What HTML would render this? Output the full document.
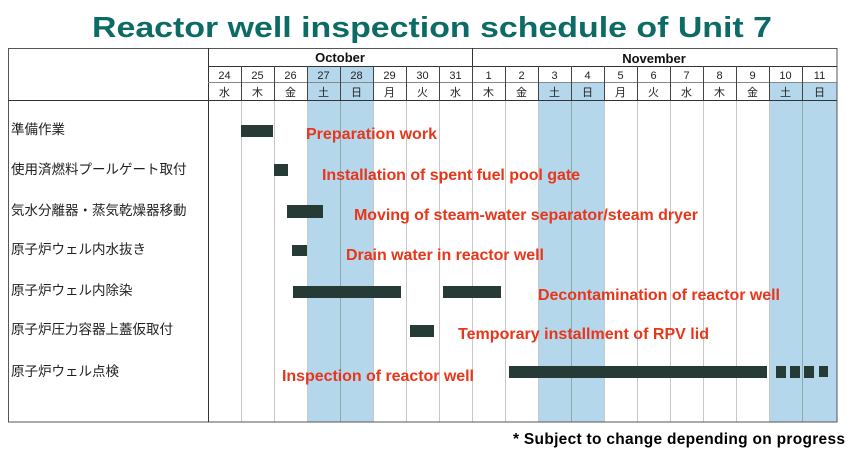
<!DOCTYPE html>
<html><head><meta charset="utf-8"><style>
html,body{margin:0;padding:0;background:#fff;}
svg{display:block;}
.jp{font-family:"Liberation Sans","Noto Sans CJK JP",sans-serif;}
.r{font-family:"Liberation Sans",sans-serif;font-weight:bold;fill:#e8361a;font-size:16px;}
</style></head><body>
<svg width="857" height="458" xmlns="http://www.w3.org/2000/svg">
<text x="92" y="37" font-family="Liberation Sans,sans-serif" font-weight="bold" font-size="29" fill="#0d6b66" textLength="680" lengthAdjust="spacingAndGlyphs">Reactor well inspection schedule of Unit 7</text>
<g fill="#b5d7ec">
<rect x="307" y="66" width="66" height="356"/>
<rect x="538" y="82" width="66" height="340"/>
<rect x="769" y="82" width="68" height="340"/>
</g>
<g stroke="#c8c8c8" stroke-width="1">
<line x1="241.5" y1="100" x2="241.5" y2="422"/><line x1="274.5" y1="100" x2="274.5" y2="422"/>
<line x1="307.5" y1="100" x2="307.5" y2="422"/><line x1="340.5" y1="100" x2="340.5" y2="422" stroke="#8aa"/>
<line x1="373.5" y1="100" x2="373.5" y2="422"/><line x1="406.5" y1="100" x2="406.5" y2="422"/>
<line x1="439.5" y1="100" x2="439.5" y2="422"/><line x1="472.5" y1="100" x2="472.5" y2="422"/>
<line x1="505.5" y1="100" x2="505.5" y2="422"/><line x1="538.5" y1="100" x2="538.5" y2="422"/>
<line x1="571.5" y1="100" x2="571.5" y2="422" stroke="#8aa"/><line x1="604.5" y1="100" x2="604.5" y2="422"/>
<line x1="637.5" y1="100" x2="637.5" y2="422"/><line x1="670.5" y1="100" x2="670.5" y2="422"/>
<line x1="703.5" y1="100" x2="703.5" y2="422"/><line x1="736.5" y1="100" x2="736.5" y2="422"/>
<line x1="769.5" y1="100" x2="769.5" y2="422"/><line x1="802.5" y1="100" x2="802.5" y2="422" stroke="#8aa"/>
</g>
<g stroke="#333" stroke-width="1" fill="none">
<rect x="8.5" y="48.5" width="828.5" height="373.5" stroke="#555"/>
<line x1="208.5" y1="48" x2="208.5" y2="422"/>
<line x1="208" y1="66.5" x2="837" y2="66.5"/>
<line x1="208" y1="82.5" x2="837" y2="82.5" stroke="#888"/>
<line x1="8" y1="100.5" x2="837" y2="100.5"/>
<line x1="472.5" y1="48" x2="472.5" y2="66"/>
</g>
<g stroke="#444" stroke-width="1">
<line x1="241.5" y1="66" x2="241.5" y2="100"/><line x1="274.5" y1="66" x2="274.5" y2="100"/>
<line x1="307.5" y1="66" x2="307.5" y2="100"/><line x1="340.5" y1="66" x2="340.5" y2="100"/>
<line x1="373.5" y1="66" x2="373.5" y2="100"/><line x1="406.5" y1="66" x2="406.5" y2="100"/>
<line x1="439.5" y1="66" x2="439.5" y2="100"/><line x1="472.5" y1="66" x2="472.5" y2="100"/>
<line x1="505.5" y1="66" x2="505.5" y2="100"/><line x1="538.5" y1="66" x2="538.5" y2="100"/>
<line x1="571.5" y1="66" x2="571.5" y2="100"/><line x1="604.5" y1="66" x2="604.5" y2="100"/>
<line x1="637.5" y1="66" x2="637.5" y2="100"/><line x1="670.5" y1="66" x2="670.5" y2="100"/>
<line x1="703.5" y1="66" x2="703.5" y2="100"/><line x1="736.5" y1="66" x2="736.5" y2="100"/>
<line x1="769.5" y1="66" x2="769.5" y2="100"/><line x1="802.5" y1="66" x2="802.5" y2="100"/>
</g>
<g font-family="Liberation Sans,sans-serif" font-weight="bold" font-size="13" fill="#111" text-anchor="middle">
<text x="340" y="62">October</text><text x="654" y="63">November</text>
</g>
<g font-family="Liberation Sans,sans-serif" font-size="11" fill="#222" text-anchor="middle">
<text x="224.5" y="79">24</text><text x="257.5" y="79">25</text><text x="290.5" y="79">26</text><text x="323.5" y="79">27</text><text x="356.5" y="79">28</text><text x="389.5" y="79">29</text><text x="422.5" y="79">30</text><text x="455.5" y="79">31</text><text x="488.5" y="79">1</text><text x="521.5" y="79">2</text><text x="554.5" y="79">3</text><text x="587.5" y="79">4</text><text x="620.5" y="79">5</text><text x="653.5" y="79">6</text><text x="686.5" y="79">7</text><text x="719.5" y="79">8</text><text x="752.5" y="79">9</text><text x="785.5" y="79">10</text><text x="819.5" y="79">11</text>
</g>
<g class="jp" font-size="11" fill="#222" text-anchor="middle">
<text x="224.5" y="96">水</text><text x="257.5" y="96">木</text><text x="290.5" y="96">金</text><text x="323.5" y="96">土</text><text x="356.5" y="96">日</text><text x="389.5" y="96">月</text><text x="422.5" y="96">火</text><text x="455.5" y="96">水</text><text x="488.5" y="96">木</text><text x="521.5" y="96">金</text><text x="554.5" y="96">土</text><text x="587.5" y="96">日</text><text x="620.5" y="96">月</text><text x="653.5" y="96">火</text><text x="686.5" y="96">水</text><text x="719.5" y="96">木</text><text x="752.5" y="96">金</text><text x="785.5" y="96">土</text><text x="819.5" y="96">日</text>
</g>
<g class="jp" font-size="13.5" fill="#222">
<text x="11" y="134">準備作業</text>
<text x="11" y="174">使用済燃料プールゲート取付</text>
<text x="11" y="215">気水分離器・蒸気乾燥器移動</text>
<text x="11" y="254">原子炉ウェル内水抜き</text>
<text x="11" y="295">原子炉ウェル内除染</text>
<text x="11" y="334">原子炉圧力容器上蓋仮取付</text>
<text x="11" y="376">原子炉ウェル点検</text>
</g>
<g fill="#263a36">
<rect x="241" y="125" width="32" height="12"/>
<rect x="274" y="164" width="14" height="12"/>
<rect x="287" y="205" width="36" height="13"/>
<rect x="292" y="245" width="15" height="11"/>
<rect x="293" y="286" width="108" height="12"/>
<rect x="443" y="286" width="58" height="12"/>
<rect x="410" y="325" width="24" height="12"/>
<rect x="509" y="366" width="258" height="12"/>
<rect x="776" y="366" width="10" height="12"/>
<rect x="790" y="366" width="10" height="12"/>
<rect x="804" y="366" width="10" height="12"/>
<rect x="819" y="366" width="9" height="11"/>
</g>
<g class="r">
<text x="306" y="139" textLength="131">Preparation work</text>
<text x="322" y="180" textLength="258">Installation of spent fuel pool gate</text>
<text x="354" y="220" textLength="344">Moving of steam-water separator/steam dryer</text>
<text x="346" y="260" textLength="198">Drain water in reactor well</text>
<text x="538" y="300" textLength="242">Decontamination of reactor well</text>
<text x="458" y="339" textLength="251">Temporary installment of RPV lid</text>
<text x="282" y="381" textLength="192">Inspection of reactor well</text>
</g>
<text x="513" y="444" font-family="Liberation Sans,sans-serif" font-weight="bold" font-size="15.5" fill="#000" textLength="332">* Subject to change depending on progress</text>
</svg>
</body></html>
